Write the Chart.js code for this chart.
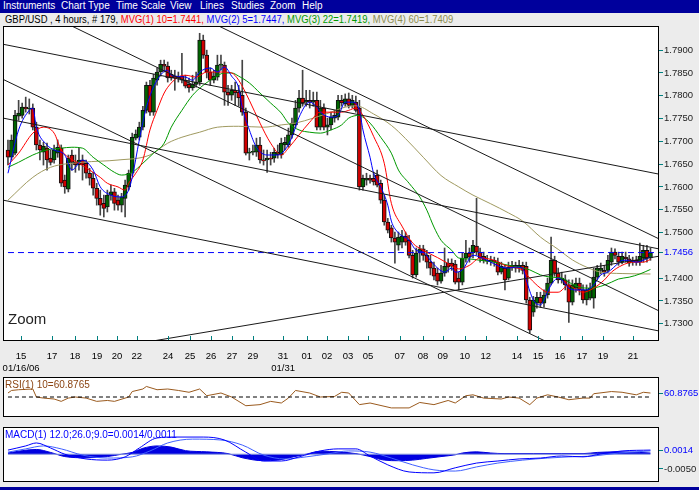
<!DOCTYPE html>
<html>
<head>
<meta charset="utf-8">
<script src="https://cdn.jsdelivr.net/npm/chart.js@4.4.1/dist/chart.umd.min.js"></script>
<style>
  body { margin:0; width:699px; height:490px; background:#ececec; overflow:hidden; position:relative;
         font-family:"Liberation Sans", Arial, sans-serif; }
  #menu { position:absolute; left:0; top:0; width:699px; height:13px; background:#00009c; }
  #menu span { position:absolute; top:0; color:#fff; font-size:10px; line-height:12px; }
  #head { position:absolute; left:5px; top:14px; font-size:10px; line-height:12px; white-space:pre; transform-origin:0 0; }
  canvas { position:absolute; left:0; }
  .txt { position:absolute; white-space:pre; font-size:10px; line-height:12px; }
  #bottom { position:absolute; left:0; top:487px; width:699px; height:3px; background:#00009c; }
</style>
</head>
<body>
<div id="menu">
  <span style="left:3px">Instruments</span><span style="left:61px">Chart Type</span>
  <span style="left:116px">Time Scale</span><span style="left:170px">View</span>
  <span style="left:200px">Lines</span><span style="left:231px">Studies</span>
  <span style="left:270px">Zoom</span><span style="left:302px">Help</span>
</div>
<div id="head"><span style="color:#000">GBP/USD , 4 hours, # 179, </span><span style="color:#ff0000">MVG(1) 10=1.7441, </span><span style="color:#0000ff">MVG(2) 5=1.7447, </span><span style="color:#009900">MVG(3) 22=1.7419, </span><span style="color:#8c8c50">MVG(4) 60=1.7409</span></div>

<canvas id="main" width="699" height="350" style="top:24px"></canvas>
<canvas id="rsi" width="699" height="42" style="top:376px"></canvas>
<canvas id="macd" width="699" height="57" style="top:426px"></canvas>

<div class="txt" style="left:8px;top:310px;font-size:15px;line-height:18px;color:#222">Zoom</div>
<div class="txt" style="left:5px;top:379px;color:#8b4513">RSI(1) 10=60.8765</div>
<div class="txt" style="left:5px;top:429px;color:#0000ff">MACD(1) 12.0;26.0;9.0=0.0014/0.0011</div>
<div id="bottom"></div>

<script>
// ---- data (bar index = one 4-hour bar) ----
const tickPos = [3.7, 12.4, 18.9, 25.1, 30.7, 36.3, 45.1, 51.3, 57.2, 63.1, 69.0, 77.5, 84.2, 89.9,
  95.8, 101.4, 110.4, 116.9, 122.5, 128.7, 134.6, 143.4, 149.3, 155.5, 161.7, 167.6, 176.1];
const tickLabels = ['15','17','18','19','20','22','24','25','26','27','29','31','01','02','03','05',
  '07','08','09','10','12','14','15','16','17','19','21'];
const dateLabels = ['01/16/06','','','','','','','','','','','01/31','','','','','','','','','','','','','','',''];
const priceTicks = [1.7900, 1.7850, 1.7800, 1.7750, 1.7700, 1.7650, 1.7600, 1.7550, 1.7500, 1.7456, 1.7400, 1.7350, 1.7300];
const lastPrice = 1.7456;

const opens = [
  1.7681,1.7665,1.7674,1.7755,1.7757,1.7775,1.7771,1.7773,1.7731,1.7692,
  1.7676,1.7685,1.7663,1.7659,1.7674,1.7685,1.7615,1.7595,1.7670,1.7654,
  1.7648,1.7659,1.7652,1.7630,1.7619,1.7597,1.7575,1.7564,1.7556,1.7582,
  1.7589,1.7571,1.7560,1.7575,1.7600,1.7630,1.7707,1.7709,1.7731,1.7768,
  1.7823,1.7764,1.7834,1.7852,1.7869,1.7865,1.7847,1.7843,1.7839,1.7843,
  1.7834,1.7825,1.7817,1.7825,1.7830,1.7922,1.7889,1.7852,1.7834,1.7841,
  1.7867,1.7867,1.7808,1.7801,1.7812,1.7808,1.7801,1.7764,1.7674,1.7676,
  1.7676,1.7692,1.7659,1.7659,1.7663,1.7663,1.7670,1.7670,1.7692,1.7692,
  1.7714,1.7736,1.7773,1.7795,1.7786,1.7790,1.7786,1.7790,1.7731,1.7773,
  1.7731,1.7736,1.7751,1.7753,1.7790,1.7782,1.7793,1.7779,1.7786,1.7773,
  1.7600,1.7615,1.7619,1.7619,1.7626,1.7608,1.7571,1.7523,1.7510,1.7488,
  1.7472,1.7479,1.7492,1.7483,1.7450,1.7407,1.7455,1.7464,1.7450,1.7435,
  1.7422,1.7411,1.7393,1.7411,1.7433,1.7433,1.7431,1.7400,1.7391,1.7444,
  1.7455,1.7455,1.7470,1.7457,1.7448,1.7439,1.7437,1.7439,1.7435,1.7413,
  1.7422,1.7400,1.7424,1.7428,1.7422,1.7428,1.7426,1.7352,1.7325,1.7345,
  1.7358,1.7345,1.7363,1.7389,1.7439,1.7411,1.7396,1.7396,1.7385,1.7347,
  1.7378,1.7389,1.7374,1.7352,1.7356,1.7356,1.7402,1.7417,1.7417,1.7417,
  1.7435,1.7457,1.7448,1.7435,1.7446,1.7442,1.7435,1.7439,1.7435,1.7444,
  1.7461,1.7444];
const highs = [
  1.7703,1.7714,1.7768,1.7790,1.7784,1.7797,1.7793,1.7782,1.7742,1.7703,
  1.7698,1.7696,1.7681,1.7692,1.7703,1.7692,1.7626,1.7670,1.7681,1.7670,
  1.7685,1.7670,1.7659,1.7641,1.7632,1.7608,1.7593,1.7582,1.7593,1.7604,
  1.7597,1.7582,1.7586,1.7615,1.7637,1.7718,1.7725,1.7742,1.7777,1.7830,
  1.7834,1.7847,1.7861,1.7878,1.7878,1.7874,1.7856,1.7856,1.7852,1.7893,
  1.7845,1.7839,1.7845,1.7852,1.7937,1.7933,1.7900,1.7861,1.7856,1.7889,
  1.7889,1.7874,1.7823,1.7823,1.7830,1.7823,1.7878,1.7773,1.7685,1.7692,
  1.7707,1.7709,1.7681,1.7681,1.7676,1.7685,1.7692,1.7707,1.7709,1.7729,
  1.7751,1.7790,1.7812,1.7856,1.7812,1.7812,1.7808,1.7808,1.7790,1.7782,
  1.7751,1.7764,1.7768,1.7801,1.7801,1.7804,1.7806,1.7801,1.7799,1.7790,
  1.7626,1.7630,1.7626,1.7632,1.7637,1.7615,1.7582,1.7531,1.7516,1.7501,
  1.7501,1.7505,1.7501,1.7494,1.7461,1.7466,1.7472,1.7472,1.7461,1.7450,
  1.7435,1.7422,1.7428,1.7466,1.7442,1.7442,1.7439,1.7413,1.7455,1.7483,
  1.7466,1.7483,1.7575,1.7466,1.7457,1.7450,1.7448,1.7446,1.7444,1.7435,
  1.7428,1.7435,1.7437,1.7435,1.7439,1.7435,1.7435,1.7358,1.7360,1.7369,
  1.7369,1.7374,1.7400,1.7490,1.7448,1.7422,1.7413,1.7407,1.7396,1.7396,
  1.7400,1.7400,1.7385,1.7385,1.7389,1.7422,1.7428,1.7433,1.7428,1.7450,
  1.7466,1.7464,1.7457,1.7457,1.7457,1.7450,1.7446,1.7448,1.7477,1.7472,
  1.7472,1.7466];
const lows = [
  1.7648,1.7659,1.7670,1.7746,1.7751,1.7764,1.7760,1.7725,1.7681,1.7659,
  1.7648,1.7637,1.7648,1.7652,1.7665,1.7601,1.7586,1.7589,1.7637,1.7632,
  1.7637,1.7615,1.7619,1.7604,1.7582,1.7560,1.7538,1.7534,1.7545,1.7571,
  1.7549,1.7549,1.7545,1.7534,1.7593,1.7624,1.7703,1.7703,1.7725,1.7762,
  1.7757,1.7757,1.7823,1.7843,1.7852,1.7830,1.7834,1.7812,1.7830,1.7828,
  1.7817,1.7808,1.7812,1.7819,1.7823,1.7882,1.7839,1.7823,1.7828,1.7834,
  1.7856,1.7779,1.7779,1.7790,1.7779,1.7777,1.7757,1.7670,1.7659,1.7670,
  1.7667,1.7652,1.7648,1.7632,1.7648,1.7654,1.7663,1.7663,1.7681,1.7687,
  1.7707,1.7729,1.7764,1.7777,1.7777,1.7773,1.7777,1.7725,1.7725,1.7725,
  1.7714,1.7725,1.7742,1.7747,1.7777,1.7777,1.7773,1.7773,1.7764,1.7593,
  1.7593,1.7604,1.7608,1.7604,1.7600,1.7564,1.7516,1.7499,1.7479,1.7433,
  1.7461,1.7466,1.7472,1.7444,1.7400,1.7402,1.7435,1.7439,1.7422,1.7407,
  1.7396,1.7385,1.7389,1.7404,1.7413,1.7417,1.7387,1.7374,1.7385,1.7435,
  1.7435,1.7444,1.7450,1.7435,1.7433,1.7431,1.7428,1.7426,1.7407,1.7409,
  1.7374,1.7396,1.7417,1.7413,1.7413,1.7409,1.7345,1.7279,1.7316,1.7334,
  1.7336,1.7336,1.7356,1.7385,1.7404,1.7389,1.7389,1.7374,1.7303,1.7341,
  1.7369,1.7363,1.7345,1.7341,1.7352,1.7334,1.7396,1.7409,1.7404,1.7413,
  1.7428,1.7442,1.7428,1.7431,1.7435,1.7426,1.7428,1.7428,1.7428,1.7435,
  1.7435,1.7439];
const closes = [
  1.7665,1.7703,1.7757,1.7762,1.7775,1.7771,1.7773,1.7731,1.7692,1.7681,
  1.7689,1.7659,1.7654,1.7681,1.7687,1.7608,1.7600,1.7663,1.7654,1.7648,
  1.7659,1.7648,1.7630,1.7619,1.7597,1.7575,1.7560,1.7553,1.7582,1.7589,
  1.7564,1.7560,1.7578,1.7604,1.7630,1.7709,1.7716,1.7731,1.7768,1.7823,
  1.7764,1.7839,1.7852,1.7869,1.7865,1.7839,1.7839,1.7839,1.7843,1.7834,
  1.7821,1.7817,1.7825,1.7830,1.7922,1.7889,1.7852,1.7834,1.7843,1.7867,
  1.7869,1.7808,1.7801,1.7812,1.7806,1.7795,1.7764,1.7674,1.7676,1.7678,
  1.7692,1.7659,1.7657,1.7663,1.7661,1.7676,1.7676,1.7696,1.7698,1.7714,
  1.7740,1.7773,1.7795,1.7784,1.7790,1.7786,1.7790,1.7731,1.7773,1.7731,
  1.7736,1.7753,1.7757,1.7790,1.7784,1.7793,1.7779,1.7790,1.7768,1.7600,
  1.7619,1.7619,1.7615,1.7611,1.7604,1.7571,1.7523,1.7505,1.7488,1.7479,
  1.7490,1.7492,1.7479,1.7450,1.7407,1.7455,1.7464,1.7450,1.7435,1.7422,
  1.7404,1.7393,1.7411,1.7426,1.7424,1.7426,1.7391,1.7391,1.7444,1.7455,
  1.7446,1.7472,1.7457,1.7444,1.7439,1.7437,1.7439,1.7435,1.7413,1.7426,
  1.7396,1.7424,1.7428,1.7422,1.7428,1.7417,1.7352,1.7286,1.7352,1.7358,
  1.7345,1.7363,1.7389,1.7439,1.7411,1.7396,1.7400,1.7385,1.7347,1.7385,
  1.7389,1.7374,1.7352,1.7374,1.7378,1.7402,1.7422,1.7422,1.7413,1.7439,
  1.7457,1.7450,1.7435,1.7448,1.7442,1.7433,1.7439,1.7435,1.7448,1.7461,
  1.7444,1.7456];

// moving averages, sampled along the drawn curves: [bar index, price]
const mvg5 = [[0,1.7630],[3,1.7725],[6,1.7768],[7,1.7773],[8,1.7731],[11,1.7692],[13,1.7681],[16,1.7670],
  [18,1.7637],[21,1.7659],[24,1.7637],[26,1.7600],[29,1.7582],[32,1.7578],[34,1.7593],[35,1.7621],[37,1.7703],
  [39,1.7775],[42,1.7834],[45,1.7856],[46,1.7845],[50,1.7841],[52,1.7834],[54,1.7852],[57,1.7861],[59,1.7852],
  [61,1.7863],[63,1.7843],[65,1.7817],[66,1.7775],[68,1.7725],[70,1.7687],[73,1.7670],[76,1.7670],[78,1.7681],
  [80,1.7709],[82,1.7753],[85,1.7786],[87,1.7775],[88,1.7764],[91,1.7753],[93,1.7757],[95,1.7786],[97,1.7786],
  [99,1.7768],[100,1.7725],[102,1.7665],[103,1.7630],[105,1.7600],[107,1.7560],[108,1.7525],[110,1.7499],
  [113,1.7483],[115,1.7461],[117,1.7457],[119,1.7439],[121,1.7422],[123,1.7413],[125,1.7422],[126,1.7413],
  [128,1.7418],[131,1.7450],[133,1.7446],[136,1.7435],[139,1.7424],[141,1.7422],[143,1.7424],[145,1.7422],
  [146,1.7396],[148,1.7352],[150,1.7341],[151,1.7352],[153,1.7385],[155,1.7400],[156,1.7396],[158,1.7378],
  [160,1.7374],[162,1.7374],[163,1.7374],[165,1.7385],[167,1.7407],[169,1.7413],[172,1.7433],[173,1.7439],
  [175,1.7439],[177,1.7435],[179,1.7439],[181,1.7447]];
const mvg10 = [[0,1.7648],[3,1.7674],[7,1.7718],[10,1.7731],[13,1.7718],[15,1.7681],[17,1.7665],[20,1.7652],
  [23,1.7637],[26,1.7621],[28,1.7608],[31,1.7600],[33,1.7593],[34,1.7608],[36,1.7630],[38,1.7659],[40,1.7725],
  [42,1.7768],[44,1.7806],[46,1.7828],[48,1.7841],[50,1.7845],[53,1.7841],[56,1.7852],[60,1.7852],[63,1.7850],
  [65,1.7834],[68,1.7790],[71,1.7740],[74,1.7696],[77,1.7670],[79,1.7685],[82,1.7714],[85,1.7742],[88,1.7764],
  [91,1.7764],[94,1.7764],[96,1.7768],[98,1.7773],[100,1.7757],[103,1.7711],[106,1.7652],[108,1.7564],
  [111,1.7514],[114,1.7477],[117,1.7461],[121,1.7445],[124,1.7432],[127,1.7420],[130,1.7428],[133,1.7444],
  [137,1.7439],[140,1.7428],[142,1.7424],[145,1.7418],[147,1.7400],[150,1.7378],[152,1.7369],[155,1.7369],
  [158,1.7385],[159,1.7380],[162,1.7369],[165,1.7378],[168,1.7396],[170,1.7413],[173,1.7428],[176,1.7435],
  [179,1.7435],[181,1.7441]];
const mvg22 = [[0,1.7643],[3,1.7654],[7,1.7670],[11,1.7681],[15,1.7685],[18,1.7687],[21,1.7685],[24,1.7665],
  [27,1.7648],[30,1.7632],[32,1.7626],[35,1.7632],[38,1.7652],[41,1.7674],[44,1.7696],[46,1.7731],[49,1.7768],
  [52,1.7801],[55,1.7823],[58,1.7839],[61,1.7850],[63,1.7850],[65,1.7843],[68,1.7828],[71,1.7806],[74,1.7784],
  [77,1.7762],[79,1.7740],[82,1.7725],[85,1.7720],[88,1.7718],[91,1.7725],[94,1.7736],[96,1.7751],[99,1.7757],
  [100,1.7753],[102,1.7740],[105,1.7709],[108,1.7674],[110,1.7637],[113,1.7608],[116,1.7578],[118,1.7549],
  [120,1.7512],[122,1.7483],[125,1.7461],[127,1.7444],[130,1.7442],[133,1.7439],[137,1.7435],[141,1.7428],
  [144,1.7424],[147,1.7418],[150,1.7407],[153,1.7402],[156,1.7400],[158,1.7391],[161,1.7380],[164,1.7378],
  [167,1.7382],[170,1.7391],[172,1.7398],[175,1.7402],[178,1.7409],[181,1.7419]];
const mvg60 = [[0,1.7571],[7,1.7621],[12,1.7643],[21,1.7654],[31,1.7659],[40,1.7670],[45,1.7696],[49,1.7709],
  [54,1.7720],[59,1.7731],[65,1.7733],[72,1.7731],[77,1.7736],[81,1.7740],[86,1.7751],[91,1.7764],[95,1.7775],
  [98,1.7778],[103,1.7760],[108,1.7735],[112,1.7706],[117,1.7665],[122,1.7625],[127,1.7600],[131,1.7582],
  [136,1.7563],[141,1.7543],[145,1.7525],[150,1.7490],[155,1.7463],[159,1.7440],[163,1.7424],[167,1.7413],
  [173,1.7410],[181,1.7409]];

// drawn trend lines: [index1, price1, index2, price2]
const trendLines = [
  [58.3, 1.7957, 183.4, 1.7486],
  [-1.4, 1.7913, 183.4, 1.7628],
  [-1.4, 1.7751, 183.4, 1.7464],
  [-1.4, 1.7836, 151.3, 1.7262],
  [40.8, 1.7262, 183.4, 1.7448],
  [-1.4, 1.7571, 183.4, 1.7284],
  [16.9, 1.7957, 183.4, 1.7328]
];

// RSI(10)
const rsiPts = [[0,61],[1,68],[3,70],[7,72],[8,50],[10,47],[13,44.5],[15,38],[17,47],[19,50],[22,47],[25,38],
  [28,40.5],[30,38],[34,50],[35,65],[38,72],[39,79],[42,70],[45,72],[48,68],[51,63],[54,72],[56,53.5],[60,61],
  [63,50],[67,26],[71,29],[74,38],[77,33.5],[79,47],[81,68],[85,61],[88,50],[92,51.5],[94,63],[96,61],[99,29],
  [102,33.5],[108,20],[113,20],[116,35],[120,29],[124,40.5],[126,33.5],[129,53.5],[131,56],[134,47],[139,44.5],
  [141,50],[144,47],[147,29],[149,47],[152,56],[155,50],[158,42.5],[162,47],[164,47],[165,59],[170,65],[173,63],
  [177,56],[179,63],[181,60.8765]];
const rsiLast = 60.8765;
const rsiMid = 50;

// MACD(12,26,9)
const macdPts = [[0,0.0014],[5,0.0028],[8,0.0038],[12,0.0021],[16,0.0000],[22,-0.0016],[28,-0.0020],[33,-0.0009],
  [37,0.0021],[42,0.0055],[47,0.0058],[55,0.0058],[61,0.0048],[67,0.0007],[72,-0.0023],[77,-0.0023],[82,-0.0009],
  [88,0.0011],[93,0.0018],[98,0.0018],[102,-0.0006],[107,-0.0036],[113,-0.0060],[120,-0.0063],[126,-0.0046],
  [132,-0.0030],[138,-0.0023],[144,-0.0016],[150,-0.0013],[156,-0.0006],[162,-0.0009],[167,0.0001],[173,0.0011],
  [181,0.0014]];
const signalPts = [[0,0.0007],[5,0.0018],[10,0.0028],[15,0.0018],[21,-0.0003],[28,-0.0013],[35,-0.0009],
  [40,0.0011],[45,0.0038],[52,0.0051],[60,0.0048],[66,0.0031],[72,-0.0003],[78,-0.0016],[84,-0.0009],[90,0.0001],
  [96,0.0011],[102,0.0007],[108,-0.0013],[114,-0.0036],[120,-0.0053],[126,-0.0057],[132,-0.0043],[138,-0.0030],
  [145,-0.0020],[152,-0.0013],[158,-0.0009],[165,-0.0006],[172,0.0004],[181,0.0011]];
const histPts = [[0,0.0004],[4,0.0012],[8,0.0016],[12,0.0006],[16,-0.0008],[22,-0.0012],[28,-0.0008],[32,0.0000],
  [35,0.0006],[38,0.0020],[42,0.0028],[46,0.0024],[50,0.0012],[56,0.0008],[62,0.0002],[66,-0.0012],[72,-0.0022],
  [76,-0.0020],[80,-0.0010],[84,0.0000],[88,0.0010],[93,0.0008],[98,0.0002],[102,-0.0008],[106,-0.0020],
  [110,-0.0022],[114,-0.0020],[118,-0.0014],[122,-0.0008],[126,-0.0002],[128,0.0004],[132,0.0008],[136,0.0004],
  [140,0.0002],[148,0.0002],[156,0.0002],[162,0.0002],[166,0.0006],[172,0.0008],[178,0.0006],[181,0.0004]];
const macdTicks = [0.0014, -0.0050];

// ---- drawing ----
const FONT = '"Liberation Sans", Arial, sans-serif';
const TEAL = '#008080';
const X_MIN = -1.4, X_MAX = 183.4;
const toXY = pts => pts.map(p => ({ x: p[0], y: p[1] }));

// squeeze header text to the width it has in the original
const head = document.getElementById('head');
head.style.transform = 'scaleX(' + (448 / head.offsetWidth) + ')';

const framePlugin = {
  id: 'frame',
  beforeDraw(chart) {
    const { ctx, chartArea: a } = chart;
    ctx.save();
    ctx.fillStyle = '#fff';
    ctx.fillRect(a.left, a.top, a.right - a.left, a.bottom - a.top);
    ctx.restore();
  },
  afterDraw(chart) {
    const { ctx, chartArea: a } = chart;
    ctx.save();
    ctx.strokeStyle = '#000';
    ctx.lineWidth = 1;
    ctx.strokeRect(a.left + 0.5, a.top + 0.5, a.right - a.left - 1, a.bottom - a.top - 1);
    ctx.restore();
  }
};

// small teal day marks inside the bottom edge of the price panel
const dayMarks = {
  id: 'dayMarks',
  afterDraw(chart) {
    const { ctx, chartArea: a } = chart;
    const xs = chart.scales.x;
    ctx.save();
    ctx.strokeStyle = TEAL;
    ctx.lineWidth = 1;
    ctx.beginPath();
    tickPos.forEach(v => {
      const px = Math.round(xs.getPixelForValue(v)) + 0.5;
      ctx.moveTo(px, a.bottom - 5);
      ctx.lineTo(px, a.bottom - 1);
    });
    ctx.stroke();
    ctx.restore();
  }
};

function rightAxis(min, max, ticks, colorFn) {
  return {
    type: 'linear', position: 'right', min, max,
    afterBuildTicks: ax => { ax.ticks = ticks.map(v => ({ value: v })); },
    afterFit: ax => { ax.width = 40; ax.paddingTop = 0; ax.paddingBottom = 0; },
    grid: { drawOnChartArea: false, drawTicks: true, tickLength: 4, tickColor: TEAL, color: TEAL },
    border: { display: false },
    ticks: { padding: 1, color: colorFn, font: { size: 9.5, family: FONT }, callback: v => v.toFixed(4) }
  };
}

function hiddenX() {
  return { type: 'linear', display: false, min: X_MIN, max: X_MAX, offset: false };
}

function lineSet(pts, color, extra) {
  return Object.assign({ type: 'line', data: toXY(pts), borderColor: color, borderWidth: 1,
    pointRadius: 0, fill: false, cubicInterpolationMode: 'monotone' }, extra || {});
}

const common = {
  responsive: false, animation: false, devicePixelRatio: 1,
  plugins: { legend: { display: false }, tooltip: { enabled: false } }
};

// price panel
const bodies = opens.map((o, i) => ({ x: i, y: [o, closes[i]] }));
const wicks = highs.map((h, i) => ({ x: i, y: [lows[i], h] }));
const bodyColors = closes.map((c, i) => (c >= opens[i] ? '#006400' : '#d00000'));

const mainSets = [
  { type: 'bar', data: wicks, backgroundColor: '#444', barThickness: 1, grouped: false, order: 6 },
  { type: 'bar', data: bodies, backgroundColor: bodyColors, borderColor: '#111', borderWidth: 1,
    borderSkipped: false, barThickness: 4, minBarLength: 1, grouped: false, order: 5 },
  lineSet(mvg60, '#a09a60', { order: 4 }),
  lineSet(mvg22, '#009900', { order: 3 }),
  lineSet(mvg10, '#ff0000', { order: 2 }),
  lineSet(mvg5, '#0000ff', { order: 1 })
];
trendLines.forEach(t => {
  mainSets.push({ type: 'line', data: [{ x: t[0], y: t[1] }, { x: t[2], y: t[3] }],
    borderColor: '#1a1a1a', borderWidth: 1, pointRadius: 0, fill: false, order: 0 });
});
mainSets.push({ type: 'line', data: [{ x: 0, y: lastPrice }, { x: X_MAX, y: lastPrice }],
  borderColor: '#0000ff', borderWidth: 1, borderDash: [6, 4], pointRadius: 0, fill: false, order: 0 });

new Chart(document.getElementById('main'), {
  type: 'bar',
  data: { datasets: mainSets },
  options: Object.assign({}, common, {
    layout: { padding: { left: 3, top: 2, right: 0, bottom: 0 } },
    scales: {
      x: {
        type: 'linear', min: X_MIN, max: X_MAX, offset: false,
        afterBuildTicks: ax => { ax.ticks = tickPos.map(v => ({ value: v })); },
        afterFit: ax => { ax.height = 33; ax.paddingLeft = 0; ax.paddingRight = 0; },
        grid: { display: false },
        border: { display: false },
        ticks: {
          autoSkip: false, maxRotation: 0, minRotation: 0, padding: 2, color: '#000',
          font: { size: 9.5, family: FONT, lineHeight: 1.2 },
          callback: (v, i) => (dateLabels[i] ? [tickLabels[i], dateLabels[i]] : tickLabels[i])
        }
      },
      y: rightAxis(1.7262, 1.7953, priceTicks, c => (c.tick && c.tick.value === lastPrice ? '#0000ff' : '#222'))
    }
  }),
  plugins: [framePlugin, dayMarks]
});

// RSI panel
new Chart(document.getElementById('rsi'), {
  type: 'line',
  data: { datasets: [
    { data: [{ x: 0, y: rsiMid }, { x: 181, y: rsiMid }], borderColor: '#000', borderWidth: 1,
      borderDash: [4, 3], pointRadius: 0, fill: false },
    lineSet(rsiPts, '#9a5a1e', { cubicInterpolationMode: 'default', tension: 0 })
  ] },
  options: Object.assign({}, common, {
    layout: { padding: { left: 3, top: 1, right: 0, bottom: 1 } },
    scales: { x: hiddenX(), y: rightAxis(-5, 105, [rsiLast], () => '#0000ff') }
  }),
  plugins: [framePlugin]
});

// MACD panel
new Chart(document.getElementById('macd'), {
  type: 'line',
  data: { datasets: [
    lineSet(histPts, '#0000e0', { fill: 'origin', backgroundColor: '#0000e0', order: 3 }),
    { data: [{ x: 0, y: 0 }, { x: 181, y: 0 }], borderColor: '#8899dd', borderWidth: 1, pointRadius: 0, fill: false, order: 2 },
    lineSet(signalPts, '#4060ff', { order: 1 }),
    lineSet(macdPts, '#0000ff', { order: 0 })
  ] },
  options: Object.assign({}, common, {
    layout: { padding: { left: 3, top: 1, right: 0, bottom: 1 } },
    scales: { x: hiddenX(), y: rightAxis(-0.0094, 0.0092, macdTicks,
      c => (c.tick && c.tick.value === macdTicks[0] ? '#0000ff' : '#222')) }
  }),
  plugins: [framePlugin]
});
</script>
</body>
</html>
